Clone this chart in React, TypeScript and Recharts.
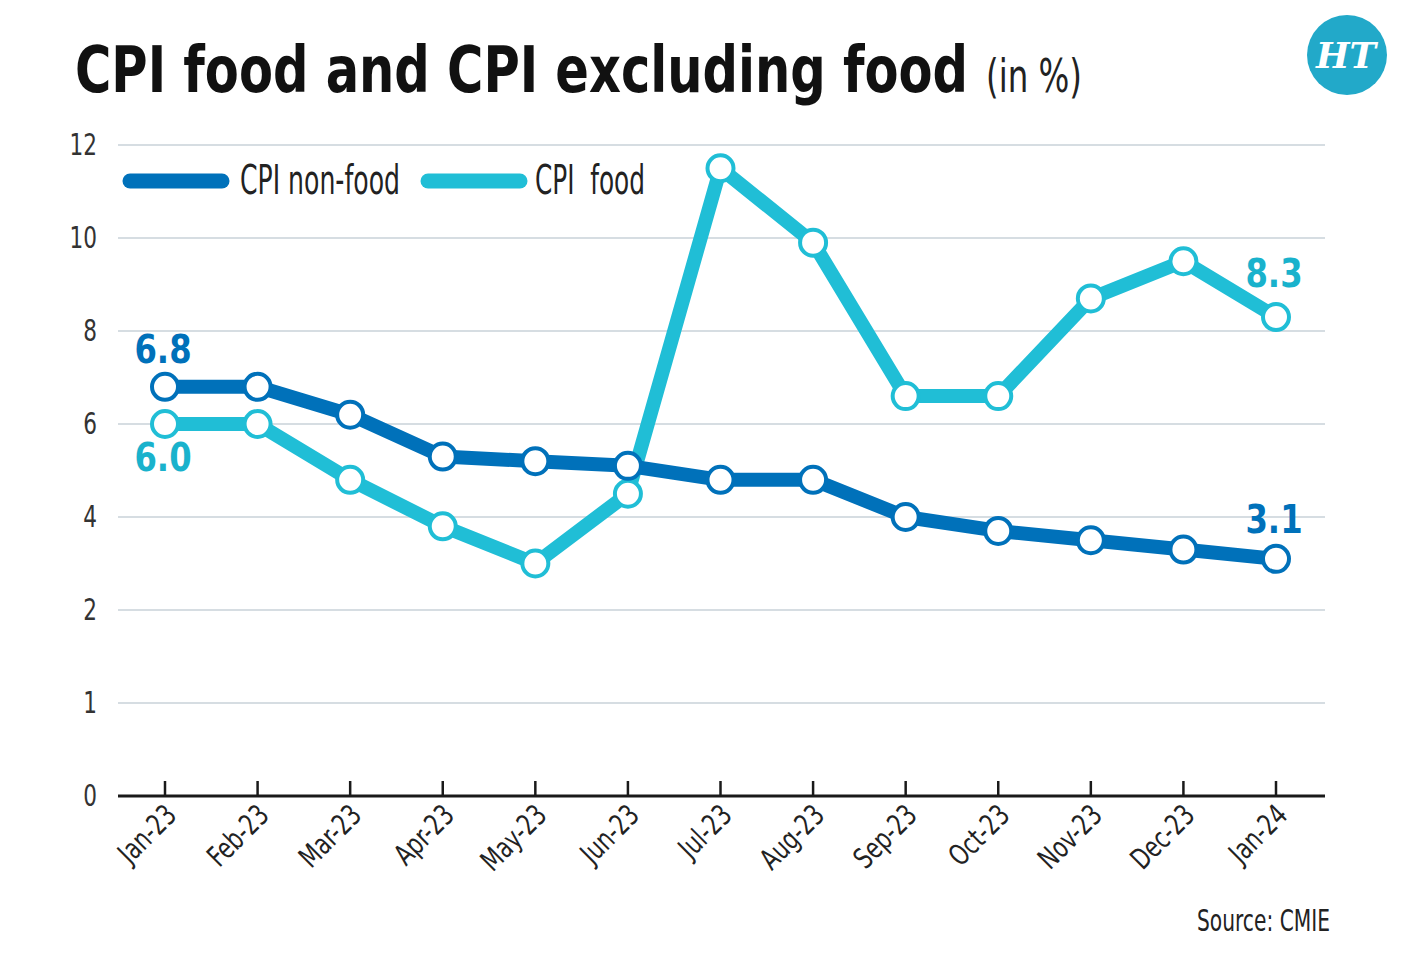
import React from 'react';
import { LineChart, Line, XAxis, YAxis, CartesianGrid, LabelList } from 'recharts';

const months = ['Jan-23', 'Feb-23', 'Mar-23', 'Apr-23', 'May-23', 'Jun-23', 'Jul-23', 'Aug-23', 'Sep-23', 'Oct-23', 'Nov-23', 'Dec-23', 'Jan-24'];
const nonFood = [6.8, 6.8, 6.2, 5.3, 5.2, 5.1, 4.8, 4.8, 4.0, 3.7, 3.5, 3.3, 3.1];
const food = [6.0, 6.0, 4.8, 3.8, 3.0, 4.5, 11.5, 9.9, 6.6, 6.6, 8.7, 9.5, 8.3];
// the axis steps 0,1,2 then by 2 up to 12, each step equally tall
const yTickLabels = ['0', '1', '2', '4', '6', '8', '10', '12'];

const DARK = '#0071BA';
const LIGHT = '#20BED6';
const LIGHT_TXT = '#19B2CC';
const FONT = "'Liberation Sans Narrow', 'DejaVu Sans Condensed', Roboto, sans-serif";

// value -> position on the uneven axis
const toAxis = (v: number) => (v <= 2 ? v : 2 + (v - 2) / 2);

const data = months.map((m, i) => ({ month: m, nonFood: nonFood[i], food: food[i] }));

const XTick = (props: any) => {
  const { x, y, payload } = props;
  return (
    <g>
      <line x1={x} x2={x} y1={y - 15} y2={y} stroke="#1a1a1a" strokeWidth={2.5} />
      <text
        transform={`translate(${x + 13} ${y + 21}) rotate(-45) scale(0.82 1)`}
        textAnchor="end"
        fontSize={29}
        fontFamily={FONT}
        fill="#222"
      >
        {payload.value}
      </text>
    </g>
  );
};

const YTick = (props: any) => {
  const { x, y, payload } = props;
  return (
    <text
      transform={`translate(${x} ${y + 10}) scale(0.8 1)`}
      textAnchor="end"
      fontSize={30}
      fontFamily={FONT}
      fill="#333"
    >
      {yTickLabels[payload.value]}
    </text>
  );
};

const endLabel = (values: number[], color: string, dyFirst: number, dyLast: number) => (props: any) => {
  const { x, y, index } = props;
  if (index !== 0 && index !== values.length - 1) return null;
  const dy = index === 0 ? dyFirst : dyLast;
  return (
    <text
      transform={`translate(${x - 2} ${y + dy}) scale(0.92 1)`}
      textAnchor="middle"
      fontSize={39}
      fontWeight={700}
      fontFamily={FONT}
      fill={color}
    >
      {values[index].toFixed(1)}
    </text>
  );
};

export default function App() {
  return (
    <div style={{ position: 'relative', width: 1401, height: 967, margin: -8, background: '#fff', overflow: 'hidden' }}>
      <svg width={1401} height={120} style={{ position: 'absolute', left: 0, top: 0 }}>
        <text
          transform="translate(75 92) scale(1 1.18)"
          fontSize={54}
          fontWeight={700}
          fontFamily={FONT}
          fill="#111"
          textLength={893}
          lengthAdjust="spacingAndGlyphs"
        >
          CPI food and CPI excluding food
        </text>
        <text
          transform="translate(986 92) scale(1 1.3)"
          fontSize={36}
          fontFamily={FONT}
          fill="#222"
          textLength={96}
          lengthAdjust="spacingAndGlyphs"
        >
          (in %)
        </text>
        <circle cx={1347} cy={55} r={40} fill="#22A9C9" />
        <text x={1346} y={68} textAnchor="middle" fontSize={36} fontWeight={700} fontStyle="italic" fontFamily="'DejaVu Serif', serif" fill="#fff" textLength={60} lengthAdjust="spacingAndGlyphs">
          HT
        </text>
      </svg>

      <LineChart
        width={1401}
        height={967}
        data={data}
        margin={{ top: 145, right: 76, bottom: 81, left: 58 }}
        style={{ position: 'absolute', left: 0, top: 0 }}
      >
        <CartesianGrid vertical={false} stroke="#c9d2d9" strokeWidth={1.5} />
        <XAxis
          dataKey="month"
          interval={0}
          padding={{ left: 47, right: 49 }}
          height={90}
          axisLine={{ stroke: '#1a1a1a', strokeWidth: 3 }}
          tickLine={false}
          tickSize={0}
          tickMargin={0}
          tick={<XTick />}
        />
        <YAxis
          type="number"
          domain={[0, 7]}
          ticks={[0, 1, 2, 3, 4, 5, 6, 7]}
          width={60}
          axisLine={false}
          tickLine={false}
          tickSize={6}
          tickMargin={15}
          tick={<YTick />}
        />
        <Line
          dataKey={(d: any) => toAxis(d.food)}
          stroke={LIGHT}
          strokeWidth={14}
          strokeLinejoin="round"
          dot={{ r: 13, fill: '#fff', stroke: LIGHT, strokeWidth: 4 }}
          isAnimationActive={false}
        >
          <LabelList content={endLabel(food, LIGHT_TXT, 47, -30)} />
        </Line>
        <Line
          dataKey={(d: any) => toAxis(d.nonFood)}
          stroke={DARK}
          strokeWidth={14}
          strokeLinejoin="round"
          dot={{ r: 13, fill: '#fff', stroke: DARK, strokeWidth: 4 }}
          isAnimationActive={false}
        >
          <LabelList content={endLabel(nonFood, DARK, -24, -26)} />
        </Line>
      </LineChart>

      <svg width={700} height={60} style={{ position: 'absolute', left: 0, top: 150 }}>
        <line x1={130} x2={222} y1={31} y2={31} stroke={DARK} strokeWidth={15} strokeLinecap="round" />
        <text x={240} y={44} fontSize={40} fontFamily={FONT} fill="#222" textLength={160} lengthAdjust="spacingAndGlyphs">
          CPI non-food
        </text>
        <line x1={428} x2={520} y1={31} y2={31} stroke={LIGHT} strokeWidth={15} strokeLinecap="round" />
        <text x={535} y={44} fontSize={40} fontFamily={FONT} fill="#222" textLength={110} lengthAdjust="spacingAndGlyphs" xmlSpace="preserve">
          CPI  food
        </text>
      </svg>

      <svg width={1401} height={60} style={{ position: 'absolute', left: 0, top: 895 }}>
        <text x={1197} y={36} fontSize={30} fontFamily={FONT} fill="#222" textLength={133} lengthAdjust="spacingAndGlyphs">
          Source: CMIE
        </text>
      </svg>
    </div>
  );
}
